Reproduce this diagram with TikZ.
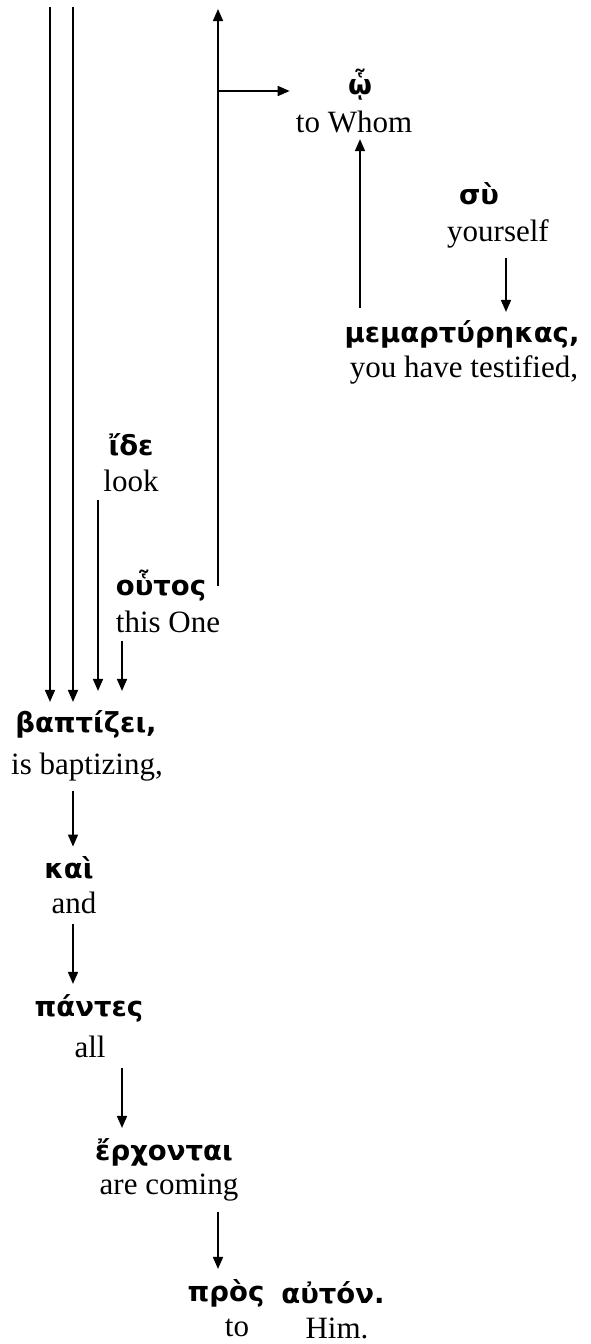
\documentclass[tikz,border=0pt]{standalone}
\usepackage{fontspec}
\setmainfont{Liberation Serif}
\newfontfamily\gk{DejaVu Sans}
\usetikzlibrary{arrows.meta}
\begin{document}
\begin{tikzpicture}[x=1pt,y=-1pt,
  gr/.style={font=\gk\bfseries\fontsize{27.5}{27.5}\selectfont, inner sep=0pt},
  en/.style={font=\fontsize{31}{31}\selectfont, inner sep=0pt},
  ln/.style={line width=1.6pt},
  arr/.style={ln, -{Triangle[length=12pt,width=10pt]}}]
\useasboundingbox (0,0) rectangle (590,1344);
% nodes
\node[gr] (wo) at (360,85) {ᾧ};
\node[en] (whom) at (354,122) {to Whom};
\node[gr] (sy) at (479,194) {σὺ};
\node[en] (yours) at (498,234) {yourself};
\node[gr] (mem) at (462,334) {μεμαρτύρηκας,};
\node[en] (test) at (464,370) {you have testified,};
\node[gr] (ide) at (131,445) {ἴδε};
\node[en] (look) at (131,481) {look};
\node[gr] (hou) at (161,586) {οὗτος};
\node[en] (this) at (168,622) {this One};
\node[gr] (bap) at (86,724) {βαπτίζει,};
\node[en] (isb) at (87,767) {is baptizing,};
\node[gr] (kai) at (69,868) {καὶ};
\node[en] (and) at (74,903) {and};
\node[gr] (pan) at (89,1008) {πάντες};
\node[en] (all) at (90,1047) {all};
\node[gr] (erx) at (164,1152) {ἔρχονται};
\node[en] (com) at (169,1188) {are coming};
\node[gr] (pros) at (226,1293) {πρὸς};
\node[gr] (aut) at (333,1293) {αὐτόν.};
\node[en] (to) at (237,1328) {to};
\node[en] (him) at (337,1328) {Him.};
% free ends
\coordinate (t1) at (50,7);
\coordinate (t2) at (73,7);
\coordinate (x3) at (98,0);
\coordinate (x4) at (122,0);
\coordinate (up) at (218,9);
\coordinate (br) at (218,91);
\coordinate (xm) at (360,0);
\coordinate (xs) at (506,0);
\coordinate (xk) at (73,0);
\coordinate (xe) at (122,0);
\coordinate (xp) at (218,0);
% connectors
\draw[arr, shorten >=8pt] (t1) -- (bap.north -| t1);
\draw[arr, shorten >=8pt] (t2) -- (bap.north -| t2);
\draw[arr, shorten <=8pt, shorten >=19pt] (look.south -| x3) -- (bap.north -| x3);
\draw[arr, shorten <=8pt, shorten >=19pt] (this.south -| x4) -- (bap.north -| x4);
\draw[arr] (hou.center -| up) -- (up);
\draw[arr, shorten >=6pt] (br) -- (whom.west |- br);
\draw[arr, shorten <=12pt, shorten >=6pt] (mem.north -| xm) -- (whom.south -| xm);
\draw[arr, shorten <=10pt, shorten >=8pt] (yours.south -| xs) -- (mem.north -| xs);
\draw[arr, shorten <=10pt, shorten >=10pt] (isb.south -| xk) -- (kai.north -| xk);
\draw[arr, shorten <=10pt, shorten >=10pt] (and.south -| xk) -- (pan.north -| xk);
\draw[arr, shorten <=10pt, shorten >=10pt] (all.south -| xe) -- (erx.north -| xe);
\draw[arr, shorten <=10pt, shorten >=10pt] (com.south -| xp) -- (pros.north -| xp);
\end{tikzpicture}
\end{document}
